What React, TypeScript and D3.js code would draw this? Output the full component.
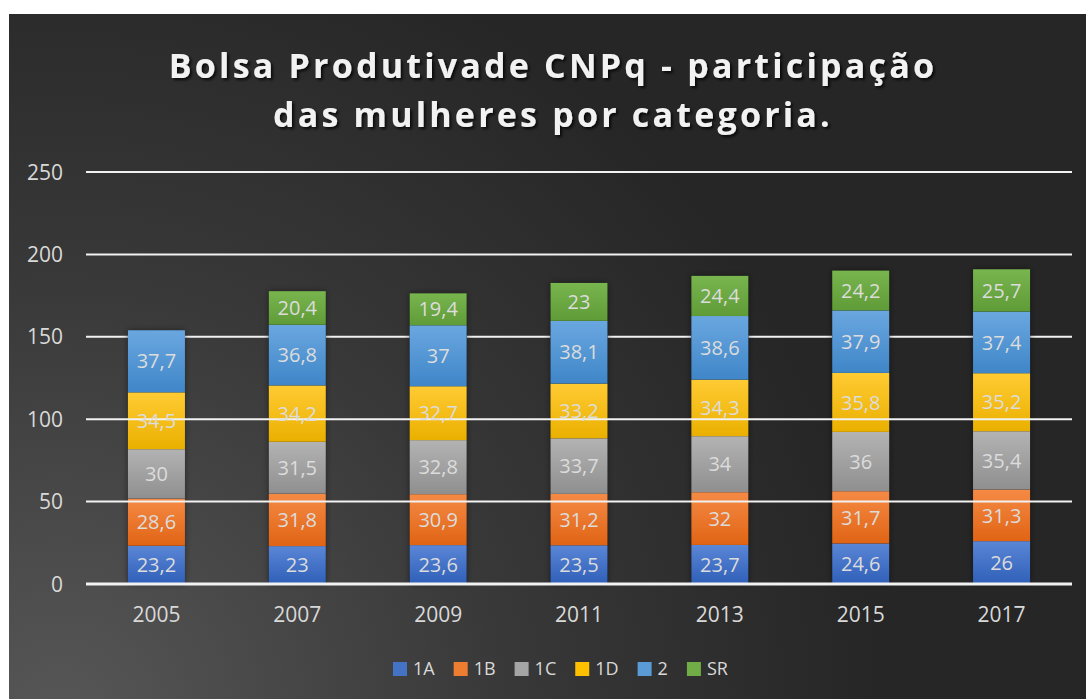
import React, { useEffect, useRef } from 'react';
import * as d3 from 'd3';

const years = ['2005', '2007', '2009', '2011', '2013', '2015', '2017'];
const categories = ['1A', '1B', '1C', '1D', '2', 'SR'];
const v1A = [23.2, 23, 23.6, 23.5, 23.7, 24.6, 26];
const v1B = [28.6, 31.8, 30.9, 31.2, 32, 31.7, 31.3];
const v1C = [30, 31.5, 32.8, 33.7, 34, 36, 35.4];
const v1D = [34.5, 34.2, 32.7, 33.2, 34.3, 35.8, 35.2];
const v2 = [37.7, 36.8, 37, 38.1, 38.6, 37.9, 37.4];
const vSR = [0, 20.4, 19.4, 23, 24.4, 24.2, 25.7];
const yTicks = [0, 50, 100, 150, 200, 250];

const colors: Record<string, [string, string]> = {
  '1A': ['#5a86d6', '#2f5fb8'],
  '1B': ['#f58a45', '#e06414'],
  '1C': ['#b3b3b3', '#8f8f8f'],
  '1D': ['#ffcb33', '#eab000'],
  '2': ['#6aa7e0', '#3f86c8'],
  SR: ['#78b54f', '#5f9b36'],
};
const legendColors: Record<string, string> = {
  '1A': '#4472c4', '1B': '#ed7d31', '1C': '#a5a5a5', '1D': '#ffc000', '2': '#5b9bd5', SR: '#70ad47',
};

const W = 1086;
const H = 699;
const font = '"Open Sans", sans-serif';

const App = () => {
  const ref = useRef<SVGSVGElement>(null);

  useEffect(() => {
    const svg = d3.select(ref.current);
    svg.selectAll('*').remove();

    const defs = svg.append('defs');
    const bg = defs.append('radialGradient').attr('id', 'bg')
      .attr('gradientUnits', 'userSpaceOnUse')
      .attr('cx', 60).attr('cy', 720).attr('r', 820);
    bg.append('stop').attr('offset', '0%').attr('stop-color', '#575757');
    bg.append('stop').attr('offset', '55%').attr('stop-color', '#383838');
    bg.append('stop').attr('offset', '100%').attr('stop-color', '#262626');

    categories.forEach((c, i) => {
      const g = defs.append('linearGradient').attr('id', `g${i}`)
        .attr('x1', 0).attr('y1', 0).attr('x2', 0).attr('y2', 1);
      g.append('stop').attr('offset', '0%').attr('stop-color', colors[c][0]);
      g.append('stop').attr('offset', '100%').attr('stop-color', colors[c][1]);
    });

    const shadow = defs.append('filter').attr('id', 'sh')
      .attr('x', '-20%').attr('y', '-20%').attr('width', '140%').attr('height', '140%');
    shadow.append('feDropShadow').attr('dx', 0).attr('dy', 0).attr('stdDeviation', 3)
      .attr('flood-color', '#000').attr('flood-opacity', 0.45);

    const tshadow = defs.append('filter').attr('id', 'tsh')
      .attr('x', '-5%').attr('y', '-20%').attr('width', '110%').attr('height', '150%');
    tshadow.append('feDropShadow').attr('dx', 2).attr('dy', 2).attr('stdDeviation', 1.5)
      .attr('flood-color', '#000').attr('flood-opacity', 0.8);

    svg.append('rect').attr('width', W).attr('height', H).attr('fill', '#fff');
    svg.append('rect').attr('x', 9).attr('y', 14).attr('width', W - 9).attr('height', H - 14)
      .attr('fill', 'url(#bg)');

    const x = d3.scaleBand().domain(years).range([86, 1072]).paddingInner(0.595).paddingOuter(0.2975);
    const y = d3.scaleLinear().domain([0, 250]).range([584, 172]);

    const series = [v1A, v1B, v1C, v1D, v2, vSR];
    const rows = years.map((yr, i) => {
      const r: any = { year: yr };
      categories.forEach((c, k) => { r[c] = series[k][i]; });
      return r;
    });
    const stacked = d3.stack().keys(categories)(rows);

    // the lower gridlines sit on top of the bars in the original
    const grid = (sel: any, ticks: number[]) => sel.selectAll('line').data(ticks).join('line')
      .attr('x1', 86).attr('x2', 1072)
      .attr('y1', (d: number) => y(d)).attr('y2', (d: number) => y(d))
      .attr('stroke', '#f2f2f2').attr('stroke-width', (d: number) => (d === 0 ? 3 : 2));

    grid(svg.append('g'), yTicks.filter(t => t >= 150));

    const bars = svg.append('g');
    years.forEach((yr, i) => {
      const top = d3.sum(series, s => s[i]);
      bars.append('rect')
        .attr('x', x(yr)!).attr('width', x.bandwidth())
        .attr('y', y(top)).attr('height', y(0) - y(top))
        .attr('fill', '#000').attr('filter', 'url(#sh)');
    });
    stacked.forEach((layer, k) => {
      bars.append('g').selectAll('rect').data(layer.filter(d => d[1] - d[0] > 0)).join('rect')
        .attr('x', (d: any) => x(d.data.year)!)
        .attr('width', x.bandwidth())
        .attr('y', d => y(d[1]))
        .attr('height', d => y(d[0]) - y(d[1]))
        .attr('fill', `url(#g${k})`);
    });

    grid(svg.append('g'), yTicks.filter(t => t < 150));

    stacked.forEach(layer => {
      svg.append('g').selectAll('text').data(layer.filter(d => d[1] - d[0] > 0)).join('text')
        .attr('x', (d: any) => x(d.data.year)! + x.bandwidth() / 2)
        .attr('y', d => y((d[0] + d[1]) / 2))
        .attr('dy', '0.36em')
        .attr('text-anchor', 'middle')
        .attr('font-family', font).attr('font-size', 20)
        .attr('fill', '#dcdcdc')
        .text(d => String(+(d[1] - d[0]).toFixed(1)).replace('.', ','));
    });

    svg.append('g').selectAll('text').data(yTicks).join('text')
      .attr('x', 63).attr('y', d => y(d)).attr('dy', '0.36em')
      .attr('text-anchor', 'end')
      .attr('font-family', font).attr('font-size', 21).attr('fill', '#d9d9d9')
      .text(d => d);

    svg.append('g').selectAll('text').data(years).join('text')
      .attr('x', d => x(d)! + x.bandwidth() / 2).attr('y', 614).attr('dy', '0.36em')
      .attr('text-anchor', 'middle')
      .attr('font-family', font).attr('font-size', 21).attr('fill', '#d9d9d9')
      .text(d => d);

    const title = svg.append('text')
      .attr('text-anchor', 'middle')
      .attr('font-family', font).attr('font-weight', 700).attr('font-size', 34)
      .attr('letter-spacing', 3.2)
      .attr('fill', '#f2f2f2').attr('filter', 'url(#tsh)');
    title.append('tspan').attr('x', 553).attr('y', 78).text('Bolsa Produtivade CNPq - participação');
    title.append('tspan').attr('x', 553).attr('y', 127).text('das mulheres por categoria.');

    const legend = svg.append('g');
    let lx = 393;
    categories.forEach(c => {
      legend.append('rect').attr('x', lx).attr('y', 662).attr('width', 14).attr('height', 14)
        .attr('fill', legendColors[c]);
      const t = legend.append('text').attr('x', lx + 20).attr('y', 669).attr('dy', '0.36em')
        .attr('font-family', font).attr('font-size', 18).attr('fill', '#d9d9d9').text(c);
      const w = (t.node() as SVGTextElement).getComputedTextLength();
      lx += 20 + w + 19;
    });
  }, []);

  return (
    <div style={{ position: 'absolute', left: 0, top: 0 }}>
      <svg ref={ref} width={W} height={H} style={{ display: 'block' }} />
    </div>
  );
};

export default App;
